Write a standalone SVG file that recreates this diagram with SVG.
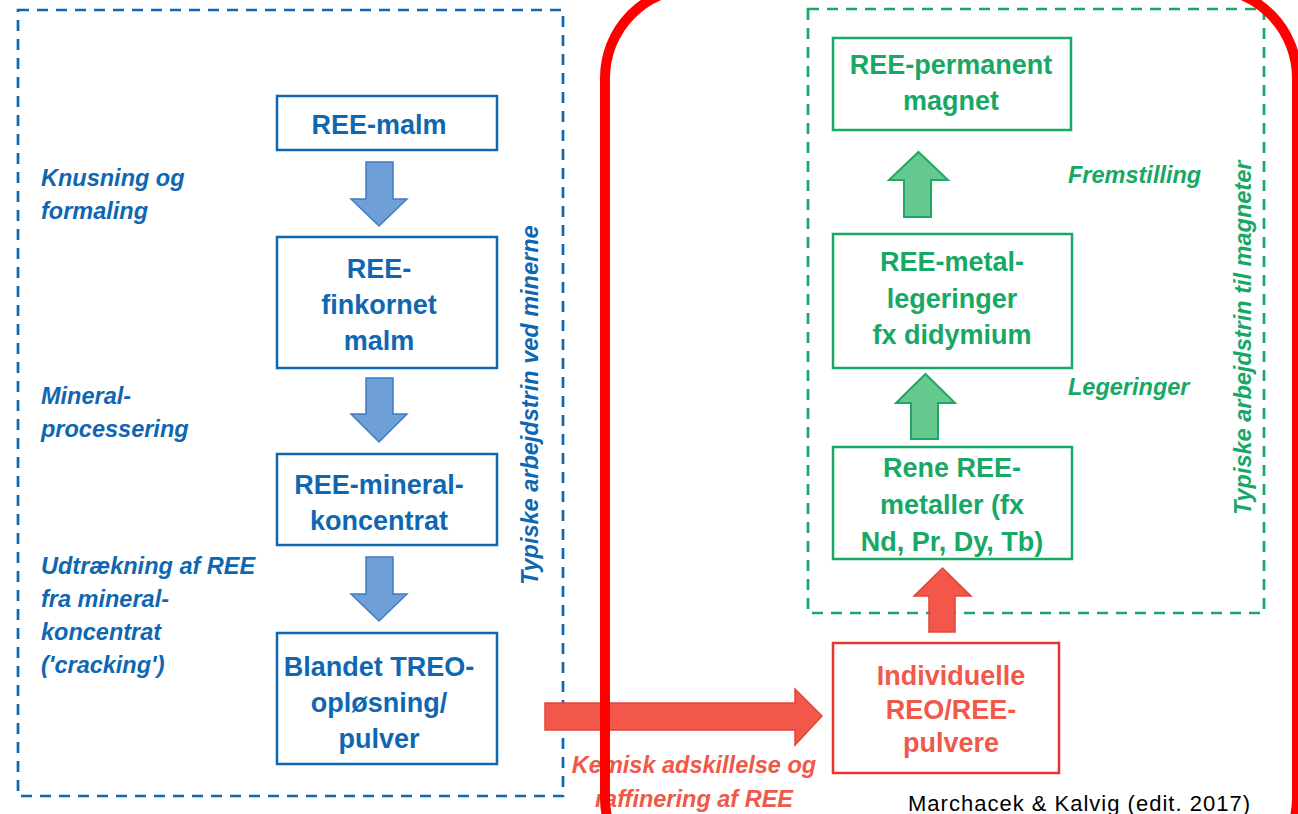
<svg xmlns="http://www.w3.org/2000/svg" width="1298" height="814" viewBox="0 0 1298 814">
<style>
.bx{font-family:"Liberation Sans",Arial,sans-serif;font-weight:bold;font-size:27px;text-anchor:middle}
.it{font-family:"Liberation Sans",Arial,sans-serif;font-weight:bold;font-style:italic;font-size:23.5px}
.blue{fill:#0f67b1}
.green{fill:#17a865}
.red{fill:#f0584a}
.bbox{fill:none;stroke:#0f67b1;stroke-width:2.5}
.gbox{fill:none;stroke:#17a865;stroke-width:2.5}
.rbox{fill:none;stroke:#e8322e;stroke-width:2.5}
.barr{fill:#6f9fd7;stroke:#3f7cc4;stroke-width:1.5}
.garr{fill:#66c98f;stroke:#1fa865;stroke-width:2}
.rarr{fill:#f3574a;stroke:#e0463c;stroke-width:1.5}
.dash{fill:none;stroke-width:2.7;stroke-dasharray:11 8}
</style>
<rect width="1298" height="814" fill="#fff"/>
<g id="region-mine">
<rect class="dash" x="18" y="10" width="545" height="786" stroke="#0f67b1"/>
<text class="it blue" transform="translate(538,585) rotate(-90)">Typiske arbejdstrin ved minerne</text>
</g>
<g id="region-magnet">
<rect class="dash" x="808" y="9" width="456" height="604" stroke="#17a865"/>
<text class="it green" transform="translate(1251,515) rotate(-90)">Typiske arbejdstrin til magneter</text>
</g>
<g id="node-malm">
<rect class="bbox" x="277" y="96" width="220" height="54"/>
<text class="bx blue" x="379" y="134">REE-malm</text>
</g>
<g id="node-finkornet">
<rect class="bbox" x="277" y="237" width="220" height="131"/>
<text class="bx blue" x="379" y="278">REE-</text>
<text class="bx blue" x="379" y="314">finkornet</text>
<text class="bx blue" x="379" y="350">malm</text>
</g>
<g id="node-mineral">
<rect class="bbox" x="277" y="454" width="220" height="91"/>
<text class="bx blue" x="379" y="494">REE-mineral-</text>
<text class="bx blue" x="379" y="530">koncentrat</text>
</g>
<g id="node-blandet">
<rect class="bbox" x="277" y="633" width="220" height="131"/>
<text class="bx blue" x="379" y="676">Blandet TREO-</text>
<text class="bx blue" x="379" y="712">opløsning/</text>
<text class="bx blue" x="379" y="748">pulver</text>
</g>
<g id="node-individuelle">
<rect class="rbox" x="833" y="643" width="226" height="130"/>
<text class="bx red" x="951" y="685">Individuelle</text>
<text class="bx red" x="951" y="719">REO/REE-</text>
<text class="bx red" x="951" y="752">pulvere</text>
</g>
<g id="node-rene">
<rect class="gbox" x="833" y="447" width="239" height="112"/>
<text class="bx green" x="952" y="477">Rene REE-</text>
<text class="bx green" x="952" y="514">metaller (fx</text>
<text class="bx green" x="952" y="551">Nd, Pr, Dy, Tb)</text>
</g>
<g id="node-legeringer">
<rect class="gbox" x="833" y="234" width="239" height="134"/>
<text class="bx green" x="952" y="271">REE-metal-</text>
<text class="bx green" x="952" y="308">legeringer</text>
<text class="bx green" x="952" y="344">fx didymium</text>
</g>
<g id="node-magnet">
<rect class="gbox" x="833" y="38" width="238" height="92"/>
<text class="bx green" x="951" y="74">REE-permanent</text>
<text class="bx green" x="951" y="110">magnet</text>
</g>
<g id="connectors">
<polygon class="barr" points="366,162 393,162 393,199 407,199 379,226 351,199 366,199"/>
<polygon class="barr" points="366,378 393,378 393,414 407,414 379,442 351,414 366,414"/>
<polygon class="barr" points="366,557 393,557 393,594 407,594 379,621 351,594 366,594"/>
<polygon class="rarr" points="545,703 795,703 795,689 822,716 795,745 795,730 545,730"/>
<polygon class="rarr" points="942.5,568 971,596 955,596 955,632 929,632 929,596 914,596"/>
<polygon class="garr" points="925.5,374 955,403 938,403 938,439 911,439 911,403 896,403"/>
<polygon class="garr" points="918.5,152 948,180 931,180 931,217 904,217 904,180 889,180"/>
</g>
<g id="labels">
<text class="it blue" x="41" y="186">Knusning og</text>
<text class="it blue" x="41" y="219">formaling</text>
<text class="it blue" x="41" y="404">Mineral-</text>
<text class="it blue" x="41" y="437">processering</text>
<text class="it blue" x="41" y="574">Udtrækning af REE</text>
<text class="it blue" x="41" y="607">fra mineral-</text>
<text class="it blue" x="41" y="640">koncentrat</text>
<text class="it blue" x="41" y="673">('cracking')</text>
<text class="it green" x="1068" y="183">Fremstilling</text>
<text class="it green" x="1068" y="395">Legeringer</text>
<text class="it red" x="694" y="773" text-anchor="middle">Kemisk adskillelse og</text>
<text class="it red" x="694" y="807" text-anchor="middle">raffinering af REE</text>
<text x="908" y="811" font-family="'Liberation Sans',Arial,sans-serif" font-size="22" fill="#000" textLength="342" lengthAdjust="spacing">Marchacek &amp; Kalvig (edit. 2017)</text>
</g>
<g id="frame-red">
<rect x="605" y="-12" width="692" height="900" rx="90" ry="90" fill="none" stroke="#ff0000" stroke-width="10"/>
</g>
</svg>
